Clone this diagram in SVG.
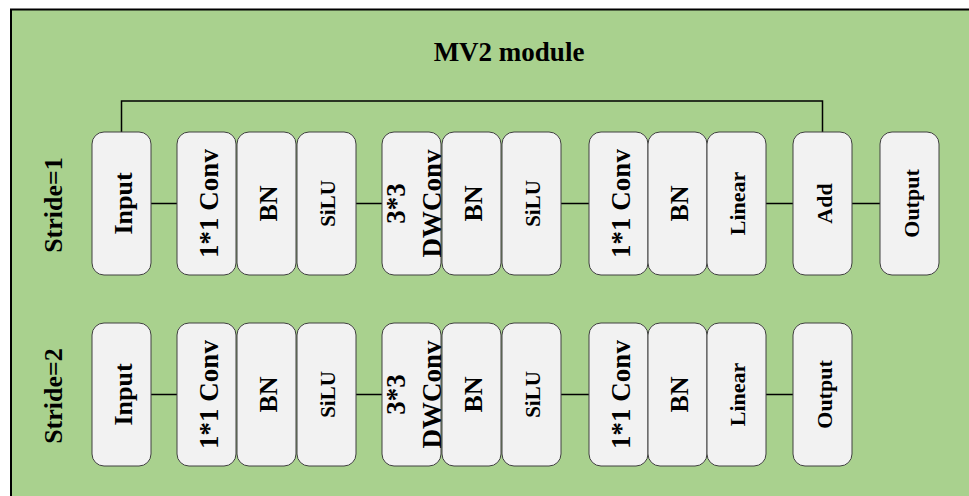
<svg xmlns="http://www.w3.org/2000/svg" width="969" height="496" viewBox="0 0 969 496">
  <style>
    .panel { fill: #a9d18e; stroke: #000; stroke-width: 2; }
    .box { fill: #f2f2f2; stroke: #404040; stroke-width: 1; }
    .lbl { font-family: "Liberation Serif", "Times New Roman", serif; font-weight: bold; fill: #000; text-anchor: middle; dominant-baseline: central; }
    .wire { fill: none; stroke: #000; stroke-width: 1.5; }
  </style>

  <rect x="0" y="0" width="969" height="496" fill="#ffffff"/>
  <rect class="panel" x="11" y="9.5" width="980" height="500"/>

  <text class="lbl" x="509" y="52" font-size="27">MV2 module</text>
  <text class="lbl" font-size="26" transform="translate(53,205) rotate(-90)">Stride=1</text>
  <text class="lbl" font-size="26" transform="translate(53,396) rotate(-90)">Stride=2</text>

  <!-- connectors -->
  <g id="connectors">
    <path class="wire" d="M121.5 132 V101 H822.5 V132"/>
    <line class="wire" x1="151" y1="203.5" x2="177" y2="203.5"/>
    <line class="wire" x1="356" y1="203.5" x2="382" y2="203.5"/>
    <line class="wire" x1="561" y1="203.5" x2="589" y2="203.5"/>
    <line class="wire" x1="766" y1="203.5" x2="793" y2="203.5"/>
    <line class="wire" x1="852" y1="203.5" x2="880" y2="203.5"/>

    <line class="wire" x1="151" y1="394.5" x2="177" y2="394.5"/>
    <line class="wire" x1="356" y1="394.5" x2="382" y2="394.5"/>
    <line class="wire" x1="561" y1="394.5" x2="589" y2="394.5"/>
    <line class="wire" x1="766" y1="394.5" x2="793" y2="394.5"/>
  </g>

  <!-- stride 1 row -->
  <g id="s1-input"><rect class="box" x="92" y="132" width="59" height="143" rx="12"/>
    <text class="lbl" font-size="26" transform="translate(121.5,203.5) rotate(-90)" y="1.5">Input</text></g>
  <g id="s1-conv1"><rect class="box" x="177" y="132" width="59" height="143" rx="12"/>
    <text class="lbl" font-size="27" transform="translate(206.5,203.5) rotate(-90)" y="2">1*1 Conv</text></g>
  <g id="s1-bn1"><rect class="box" x="237" y="132" width="59" height="143" rx="12"/>
    <text class="lbl" font-size="26" transform="translate(266.5,203.5) rotate(-90)" y="2">BN</text></g>
  <g id="s1-silu1"><rect class="box" x="297" y="132" width="59" height="143" rx="12"/>
    <text class="lbl" font-size="21" transform="translate(326.5,203.5) rotate(-90)" y="1">SiLU</text></g>
  <g id="s1-dwconv"><rect class="box" x="382" y="132" width="59" height="143" rx="12"/>
    <text class="lbl" font-size="27" transform="translate(411.5,203.5) rotate(-90)" y="-15.5">3*3</text>
    <text class="lbl" font-size="27" transform="translate(411.5,203.5) rotate(-90)" y="20">DWConv</text></g>
  <g id="s1-bn2"><rect class="box" x="442" y="132" width="59" height="143" rx="12"/>
    <text class="lbl" font-size="26" transform="translate(471.5,203.5) rotate(-90)" y="2">BN</text></g>
  <g id="s1-silu2"><rect class="box" x="502" y="132" width="59" height="143" rx="12"/>
    <text class="lbl" font-size="21" transform="translate(531.5,203.5) rotate(-90)" y="1">SiLU</text></g>
  <g id="s1-conv2"><rect class="box" x="589" y="132" width="59" height="143" rx="12"/>
    <text class="lbl" font-size="27" transform="translate(618.5,203.5) rotate(-90)" y="2">1*1 Conv</text></g>
  <g id="s1-bn3"><rect class="box" x="648" y="132" width="59" height="143" rx="12"/>
    <text class="lbl" font-size="26" transform="translate(677.5,203.5) rotate(-90)" y="2">BN</text></g>
  <g id="s1-linear"><rect class="box" x="707" y="132" width="59" height="143" rx="12"/>
    <text class="lbl" font-size="22" transform="translate(736.5,203.5) rotate(-90)" y="1">Linear</text></g>
  <g id="s1-add"><rect class="box" x="793" y="132" width="59" height="143" rx="12"/>
    <text class="lbl" font-size="22" transform="translate(822.5,203.5) rotate(-90)" y="2">Add</text></g>
  <g id="s1-output"><rect class="box" x="880" y="132" width="59" height="143" rx="12"/>
    <text class="lbl" font-size="22" transform="translate(909.5,203.5) rotate(-90)" y="1.5">Output</text></g>

  <!-- stride 2 row -->
  <g id="s2-input"><rect class="box" x="92" y="323" width="59" height="143" rx="12"/>
    <text class="lbl" font-size="26" transform="translate(121.5,394.5) rotate(-90)" y="1.5">Input</text></g>
  <g id="s2-conv1"><rect class="box" x="177" y="323" width="59" height="143" rx="12"/>
    <text class="lbl" font-size="27" transform="translate(206.5,394.5) rotate(-90)" y="2">1*1 Conv</text></g>
  <g id="s2-bn1"><rect class="box" x="237" y="323" width="59" height="143" rx="12"/>
    <text class="lbl" font-size="26" transform="translate(266.5,394.5) rotate(-90)" y="2">BN</text></g>
  <g id="s2-silu1"><rect class="box" x="297" y="323" width="59" height="143" rx="12"/>
    <text class="lbl" font-size="21" transform="translate(326.5,394.5) rotate(-90)" y="1">SiLU</text></g>
  <g id="s2-dwconv"><rect class="box" x="382" y="323" width="59" height="143" rx="12"/>
    <text class="lbl" font-size="27" transform="translate(411.5,394.5) rotate(-90)" y="-15.5">3*3</text>
    <text class="lbl" font-size="27" transform="translate(411.5,394.5) rotate(-90)" y="20">DWConv</text></g>
  <g id="s2-bn2"><rect class="box" x="442" y="323" width="59" height="143" rx="12"/>
    <text class="lbl" font-size="26" transform="translate(471.5,394.5) rotate(-90)" y="2">BN</text></g>
  <g id="s2-silu2"><rect class="box" x="502" y="323" width="59" height="143" rx="12"/>
    <text class="lbl" font-size="21" transform="translate(531.5,394.5) rotate(-90)" y="1">SiLU</text></g>
  <g id="s2-conv2"><rect class="box" x="589" y="323" width="59" height="143" rx="12"/>
    <text class="lbl" font-size="27" transform="translate(618.5,394.5) rotate(-90)" y="2">1*1 Conv</text></g>
  <g id="s2-bn3"><rect class="box" x="648" y="323" width="59" height="143" rx="12"/>
    <text class="lbl" font-size="26" transform="translate(677.5,394.5) rotate(-90)" y="2">BN</text></g>
  <g id="s2-linear"><rect class="box" x="707" y="323" width="59" height="143" rx="12"/>
    <text class="lbl" font-size="22" transform="translate(736.5,394.5) rotate(-90)" y="1">Linear</text></g>
  <g id="s2-output"><rect class="box" x="793" y="323" width="59" height="143" rx="12"/>
    <text class="lbl" font-size="22" transform="translate(822.5,394.5) rotate(-90)" y="1.5">Output</text></g>
</svg>
